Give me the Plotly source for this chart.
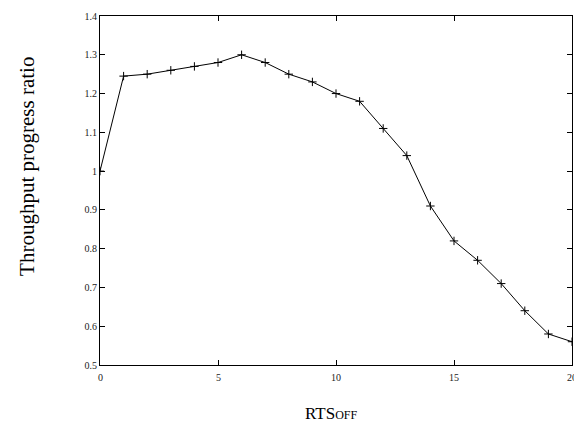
import plotly.graph_objects as go

# RTS_OFF setting and the measured throughput progress ratio
rts_off = [0, 1, 2, 3, 4, 5, 6, 7, 8, 9, 10, 11, 12, 13, 14, 15, 16, 17, 18, 19, 20]
ratio = [1.0, 1.245, 1.25, 1.26, 1.27, 1.28, 1.30, 1.28, 1.25, 1.23, 1.20,
         1.18, 1.11, 1.04, 0.91, 0.82, 0.77, 0.71, 0.64, 0.58, 0.56]

x_ticks = [0, 5, 10, 15, 20]
y_ticks = [0.5, 0.6, 0.7, 0.8, 0.9, 1.0, 1.1, 1.2, 1.3, 1.4]
y_tick_text = ["0.5", "0.6", "0.7", "0.8", "0.9", "1", "1.1", "1.2", "1.3", "1.4"]

serif = "Liberation Serif"
tick_font = dict(family=serif, size=10, color="#222")

fig = go.Figure(
    go.Scatter(
        x=rts_off,
        y=ratio,
        mode="lines+markers",
        line=dict(color="black", width=1),
        marker=dict(symbol="cross-thin", size=6, line=dict(color="black", width=1)),
        showlegend=False,
    )
)

axis_common = dict(
    showline=True,
    linecolor="black",
    linewidth=1,
    mirror="ticks",
    ticks="inside",
    ticklen=5,
    tickcolor="black",
    tickwidth=1,
    showgrid=False,
    zeroline=False,
    tickfont=tick_font,
)

# the last x label sits on the figure edge, so all x labels are drawn as annotations
fig.update_xaxes(range=[0, 20], tickvals=x_ticks, showticklabels=False, **axis_common)
fig.update_yaxes(range=[0.5, 1.4], tickvals=y_ticks, ticktext=y_tick_text,
                 **axis_common)

for v in x_ticks:
    fig.add_annotation(
        text=str(v), x=v, xref="x", y=0, yref="paper", yshift=-5,
        xanchor="center", yanchor="top", showarrow=False, font=tick_font,
    )

fig.add_annotation(
    text="Throughput progress ratio",
    xref="paper", yref="paper", x=-0.155, y=0.57,
    xanchor="center", yanchor="middle", textangle=-90, showarrow=False,
    font=dict(family=serif, size=21, color="black"),
)
fig.add_annotation(
    text="RTS<span style='font-size:12px'>OFF</span>",
    xref="paper", yref="paper", x=0.49, y=-0.107,
    xanchor="center", yanchor="top", showarrow=False,
    font=dict(family=serif, size=17, color="black"),
)

fig.update_layout(
    width=574,
    height=424,
    margin=dict(l=100, r=2, t=16, b=59),
    paper_bgcolor="white",
    plot_bgcolor="white",
    font=dict(family=serif),
)

fig.write_html("out.html")
